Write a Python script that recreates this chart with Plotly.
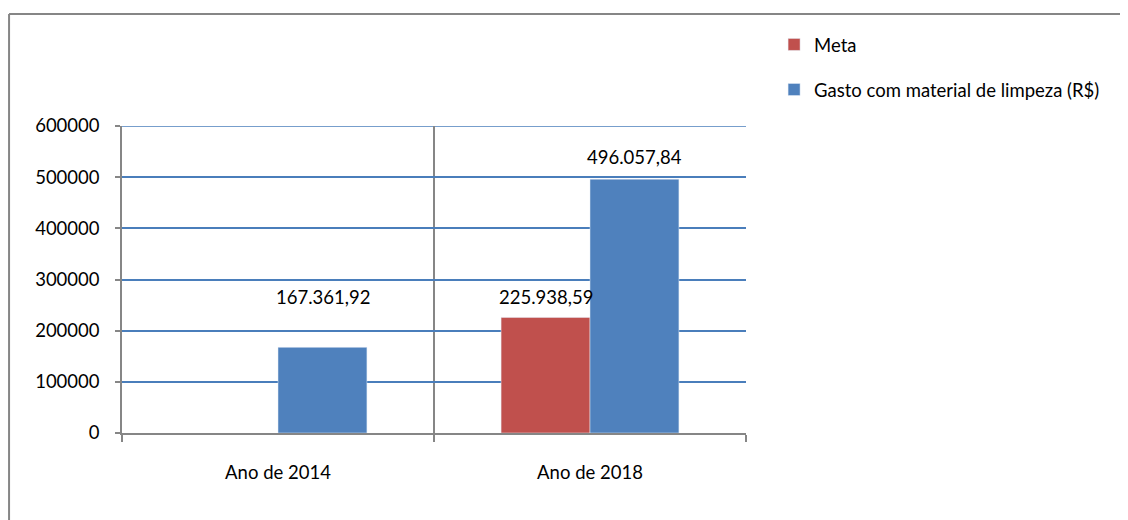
import plotly.graph_objects as go

# Dados do gráfico
categorias = ["Ano de 2014", "Ano de 2018"]
meta = [None, 225938.59]
gasto = [167361.92, 496057.84]

cor_meta = "#C0504D"
cor_gasto = "#4F81BD"
cor_grade = "#4A7EBB"
cor_eixo = "#868686"
fonte = dict(family="Lato, Liberation Sans, sans-serif", size=18.5, color="#000000")


def formata_br(v):
    # 496057.84 -> 496.057,84
    return f"{v:,.2f}".replace(",", "X").replace(".", ",").replace("X", ".")


fig = go.Figure()
fig.add_trace(go.Bar(x=categorias, y=meta, name="Meta", marker_color=cor_meta,
                     legendgroup="meta"))
fig.add_trace(go.Bar(x=categorias, y=gasto, name="Gasto com material de limpeza (R$)",
                     marker_color=cor_gasto, legendgroup="gasto"))

# Rótulos de dados (posicionados manualmente como no original)
largura_px = 44.5
for serie, desloc, subidas in [(meta, -largura_px, [0, 20]), (gasto, largura_px, [50, 22])]:
    for cat, v, sobe in zip(categorias, serie, subidas):
        if v is None:
            continue
        fig.add_annotation(x=cat, y=v, text=formata_br(v), showarrow=False,
                           xshift=desloc, yshift=sobe, yanchor="middle", font=fonte)

# Linha de grade do topo (o plotly não desenha a do limite do eixo)
fig.add_shape(type="line", xref="paper", yref="y", x0=0, x1=1, y0=600000, y1=600000,
              line=dict(color=cor_grade, width=1.5), layer="below")

# Borda do gráfico: só o lado esquerdo e o de cima aparecem na imagem
fig.add_shape(type="line", xref="paper", yref="paper", x0=-0.181, x1=1.64, y0=1.365, y1=1.365,
              line=dict(color=cor_eixo, width=2))
fig.add_shape(type="line", xref="paper", yref="paper", x0=-0.181, x1=-0.181, y0=-0.35, y1=1.365,
              line=dict(color=cor_eixo, width=2))

fig.update_layout(
    width=1128, height=520,
    margin=dict(l=114, r=390, t=118, b=95),
    plot_bgcolor="white", paper_bgcolor="white",
    barmode="group", bargap=0.43, bargroupgap=0,
    font=fonte,
    legend=dict(x=1.045, y=1.326, xanchor="left", yanchor="top",
                traceorder="grouped", tracegroupgap=18, font=fonte,
                itemwidth=30),
    showlegend=True,
)
fig.update_xaxes(type="category", tickson="boundaries", showgrid=True, gridcolor=cor_eixo,
                 gridwidth=1.5, showline=True, linecolor=cor_eixo, linewidth=1.5,
                 ticks="outside", ticklen=7, tickcolor=cor_eixo, tickwidth=1.5,
                 ticklabelstandoff=22)
fig.update_yaxes(range=[0, 600000], dtick=100000, showgrid=True, gridcolor=cor_grade,
                 gridwidth=1.5, zeroline=False, showline=True, linecolor=cor_eixo,
                 linewidth=1.5, ticks="outside", ticklen=5, tickcolor=cor_eixo,
                 tickwidth=1.5, ticklabelstandoff=12, tickformat="d")

# sem barras de rolagem na página
fig.write_html("out.html", post_script="document.body.style.overflow = 'hidden';")
